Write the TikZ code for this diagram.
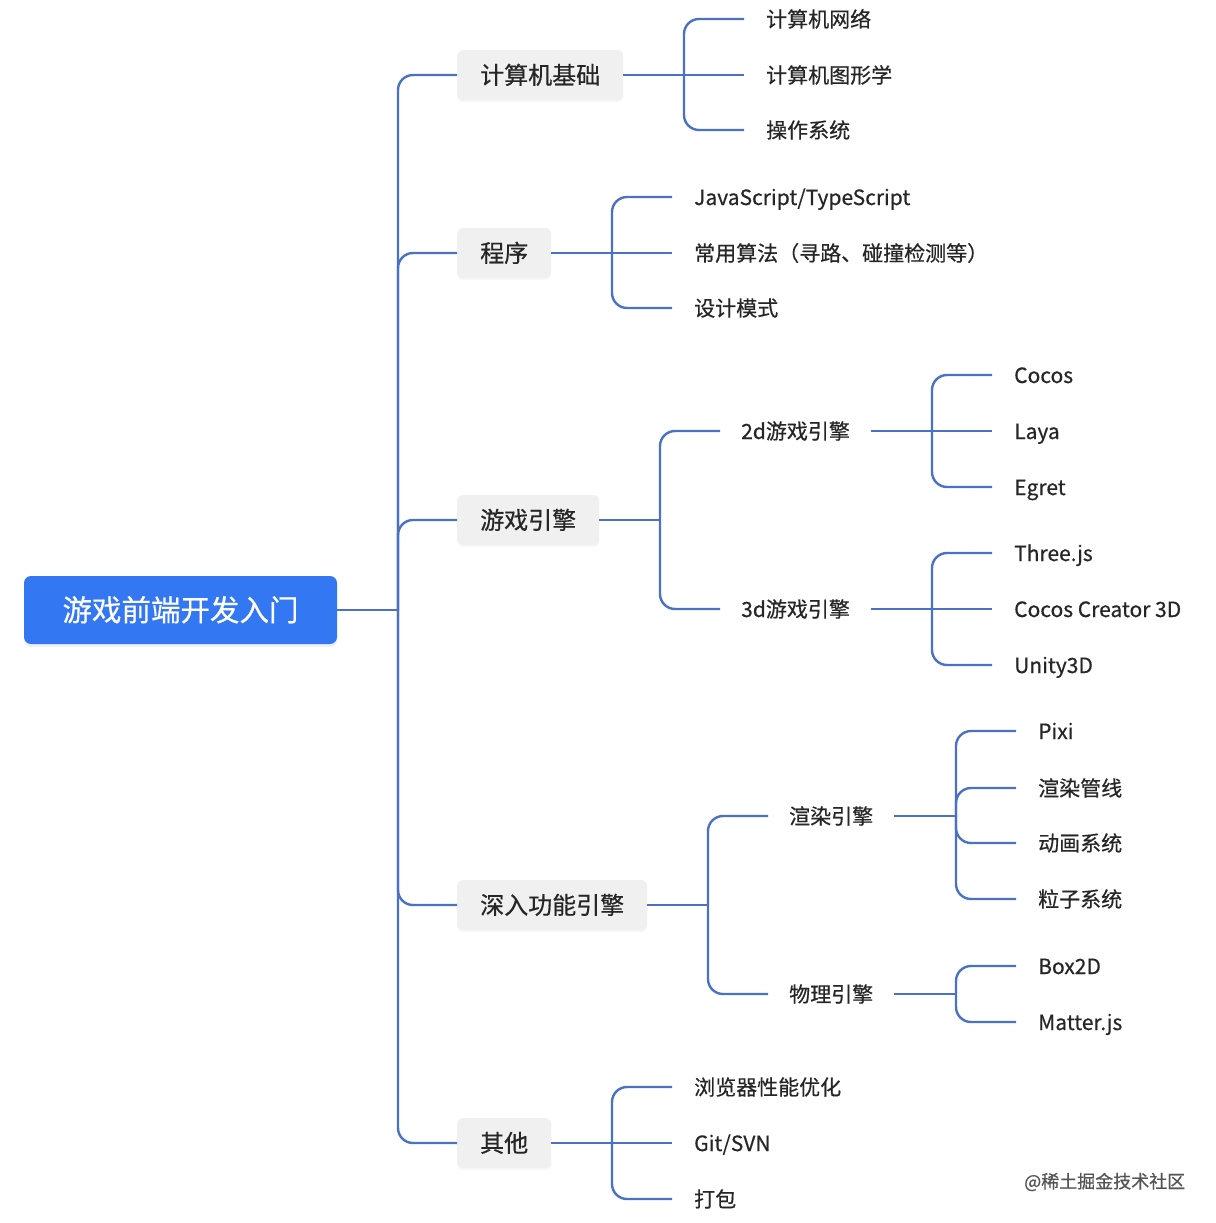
\documentclass[tikz,border=0pt]{standalone}
\usepackage{fontspec}
\setmainfont{Noto Sans CJK SC}[FakeBold=0.5]
\usetikzlibrary{shadows}
\definecolor{lineblue}{HTML}{4A72C4}
\definecolor{rootblue}{HTML}{3377F2}
\definecolor{catgray}{HTML}{F0F0F0}
\definecolor{txt}{HTML}{262626}
\definecolor{wm}{HTML}{555555}
\tikzset{
  conn/.style={draw=lineblue, line width=2.4pt, rounded corners=15pt},
  rootbox/.style={fill=rootblue, rounded corners=7pt, minimum width=313pt, minimum height=68pt,
    text=white, font=\fontsize{29.5}{34}\selectfont, text height=25pt, text depth=3pt,
    drop shadow={opacity=0.12, shadow xshift=0pt, shadow yshift=-3pt}},
  catbox/.style={fill=catgray, rounded corners=6pt, minimum height=50pt, inner xsep=23pt,
    text=txt, font=\fontsize{24}{28}\selectfont, text height=20.5pt, text depth=2.5pt, anchor=west,
    drop shadow={opacity=0.06, shadow xshift=0pt, shadow yshift=-2pt}},
  midtext/.style={inner xsep=21pt, inner ysep=3pt, text=txt, font=\fontsize{21}{25}\selectfont,
    text height=18pt, text depth=2pt, anchor=west},
  leaf/.style={inner xsep=22pt, inner ysep=3pt, text=txt, font=\fontsize{21}{25}\selectfont,
    text height=18pt, text depth=2pt, anchor=west},
}
\begin{document}
\begin{tikzpicture}[x=1pt,y=-1pt]
\useasboundingbox (0,0) rectangle (1215,1223);
\fill[white] (0,0) rectangle (1215,1223);

% root
\node[rootbox] (root) at (180.5,610) {游戏前端开发入门};

% categories
\node[catbox] (c1) at (457,75) {计算机基础};
\node[catbox] (c2) at (457,253) {程序};
\node[catbox] (c3) at (457,520) {游戏引擎};
\node[catbox] (c4) at (457,905) {深入功能引擎};
\node[catbox] (c5) at (457,1143) {其他};

\coordinate (j0) at (398,610);
\draw[conn] (root.east) -- (j0);
\foreach \c in {c1,c2,c3,c4,c5} { \draw[conn] (j0) |- (\c.west); }

% 计算机基础
\node[leaf] (a1) at (744,19) {计算机网络};
\node[leaf] (a2) at (744,75) {计算机图形学};
\node[leaf] (a3) at (744,130) {操作系统};
\coordinate (j1) at (684,75);
\draw[conn] (c1.east) -- (j1);
\draw[conn] (j1) -- (a2.west);
\foreach \c in {a1,a3} { \draw[conn] (j1) |- (\c.west); }

% 程序
\node[leaf] (b1) at (672,197) {JavaScript/TypeScript};
\node[leaf] (b2) at (672,253) {常用算法（寻路、碰撞检测等）};
\node[leaf] (b3) at (672,308) {设计模式};
\coordinate (j2) at (612,253);
\draw[conn] (c2.east) -- (j2);
\draw[conn] (j2) -- (b2.west);
\foreach \c in {b1,b3} { \draw[conn] (j2) |- (\c.west); }

% 游戏引擎
\node[midtext] (m1) at (720,431) {2d游戏引擎};
\node[midtext] (m2) at (720,609) {3d游戏引擎};
\coordinate (j3) at (660,520);
\draw[conn] (c3.east) -- (j3);
\foreach \c in {m1,m2} { \draw[conn] (j3) |- (\c.west); }

\node[leaf] (d1) at (992,375) {Cocos};
\node[leaf] (d2) at (992,431) {Laya};
\node[leaf] (d3) at (992,487) {Egret};
\coordinate (j4) at (932,431);
\draw[conn] (m1.east) -- (j4);
\draw[conn] (j4) -- (d2.west);
\foreach \c in {d1,d3} { \draw[conn] (j4) |- (\c.west); }

\node[leaf] (e1) at (992,553) {Three.js};
\node[leaf] (e2) at (992,609) {Cocos Creator 3D};
\node[leaf] (e3) at (992,665) {Unity3D};
\coordinate (j5) at (932,609);
\draw[conn] (m2.east) -- (j5);
\draw[conn] (j5) -- (e2.west);
\foreach \c in {e1,e3} { \draw[conn] (j5) |- (\c.west); }

% 深入功能引擎
\node[midtext] (m3) at (768,816) {渲染引擎};
\node[midtext] (m4) at (768,994) {物理引擎};
\coordinate (j6) at (708,905);
\draw[conn] (c4.east) -- (j6);
\foreach \c in {m3,m4} { \draw[conn] (j6) |- (\c.west); }

\node[leaf] (f1) at (1016,731) {Pixi};
\node[leaf] (f2) at (1016,788) {渲染管线};
\node[leaf] (f3) at (1016,843) {动画系统};
\node[leaf] (f4) at (1016,899) {粒子系统};
\coordinate (j7) at (956,816);
\draw[conn] (m3.east) -- (j7);
\foreach \c in {f1,f2,f3,f4} { \draw[conn] (j7) |- (\c.west); }

\node[leaf] (g1) at (1016,966) {Box2D};
\node[leaf] (g2) at (1016,1022) {Matter.js};
\coordinate (j8) at (956,994);
\draw[conn] (m4.east) -- (j8);
\foreach \c in {g1,g2} { \draw[conn] (j8) |- (\c.west); }

% 其他
\node[leaf] (h1) at (672,1087) {浏览器性能优化};
\node[leaf] (h2) at (672,1143) {Git/SVN};
\node[leaf] (h3) at (672,1199) {打包};
\coordinate (j9) at (612,1143);
\draw[conn] (c5.east) -- (j9);
\draw[conn] (j9) -- (h2.west);
\foreach \c in {h1,h3} { \draw[conn] (j9) |- (\c.west); }

% watermark
\node[anchor=west, inner sep=0pt, text=wm, font=\fontsize{18}{22}\selectfont] (wmk) at (1024,1182) {@稀土掘金技术社区};
\end{tikzpicture}
\end{document}
